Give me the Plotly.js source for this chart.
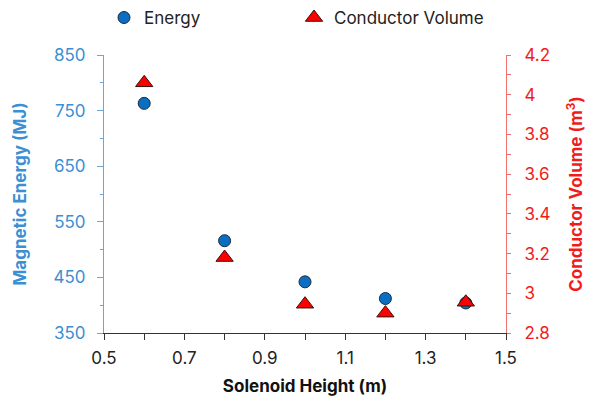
<!DOCTYPE html>
<html><head><meta charset="utf-8">
<script src="https://cdn.plot.ly/plotly-3.0.1.min.js"></script>
<style>html,body{margin:0;padding:0;background:#fff}</style>
</head><body><div id="chart" style="width:597px;height:399px"></div>
<script>
const heights = [0.6, 0.8, 1.0, 1.2, 1.4];
const energy = [763, 516, 442, 412, 404];
const volume = [4.06, 3.18, 2.945, 2.90, 2.955];
const FONT = 'Inter, "Noto Sans", sans-serif';
const BLUE_T = '#3b8fd3', RED_T = '#f01c1c';
const traces = [
  {x: heights, y: energy, name: 'Energy', type: 'scatter', mode: 'markers', yaxis: 'y',
   marker: {symbol: 'circle', size: 12, color: '#0a6fc2', line: {color: '#1a2a3a', width: 1}}},
  {x: heights, y: volume, name: 'Conductor Volume', type: 'scatter', mode: 'markers', yaxis: 'y2',
   marker: {symbol: 'triangle-up', size: 15, color: '#ff0000', line: {color: '#3a1010', width: 1}}}
];
const layout = {
  width: 597, height: 399,
  margin: {l: 104, r: 91, t: 55, b: 66},
  paper_bgcolor: '#fff', plot_bgcolor: '#fff',
  font: {family: FONT, size: 16, color: '#222'},
  showlegend: true,
  legend: {orientation: 'h', x: 0.0, xanchor: 'left', y: 0.955, yanchor: 'middle', yref: 'container',
           entrywidth: 145, font: {size: 17, color: '#222'}},
  xaxis: {range: [0.5, 1.5], tick0: 0.5, dtick: 0.2, ticks: 'outside', ticklen: 6, tickcolor: '#333',
          showline: true, linecolor: '#333', showgrid: false, zeroline: false,
          tickfont: {size: 17, color: '#222'}, ticklabelstandoff: 4,
          minor: {dtick: 0.1, ticks: 'outside', ticklen: 6, tickcolor: '#333', showgrid: false},
          title: {text: 'Solenoid Height (m)', font: {size: 17, color: '#111', weight: 'bold'}, standoff: 12}},
  yaxis: {range: [350, 850], tick0: 350, dtick: 100, ticks: 'outside', ticklen: 6, tickcolor: '#6aa8dc',
          showline: true, linecolor: '#6aa8dc', showgrid: false, zeroline: false,
          tickfont: {size: 17, color: BLUE_T}, ticklabelstandoff: 8,
          minor: {dtick: 50, ticks: 'outside', ticklen: 3, tickcolor: '#6aa8dc', showgrid: false},
          title: {text: 'Magnetic Energy (MJ)', font: {size: 17, color: BLUE_T, weight: 'bold'}, standoff: 22}},
  yaxis2: {range: [2.8, 4.2], tick0: 2.8, dtick: 0.2, overlaying: 'y', side: 'right',
           ticks: 'outside', ticklen: 4, tickcolor: '#f07070',
           showline: true, linecolor: '#f07070', showgrid: false, zeroline: false,
           tickfont: {size: 17, color: RED_T}, ticklabelstandoff: 10,
           minor: {dtick: 0.1, ticks: 'outside', ticklen: 4, tickcolor: '#f07070', showgrid: false},
           title: {text: 'Conductor Volume (m<sup>3</sup>)', font: {size: 17, color: RED_T, weight: 'bold'}, standoff: 20}}
};
Plotly.newPlot('chart', traces, layout, {displayModeBar: false, staticPlot: true});
</script></body></html>
